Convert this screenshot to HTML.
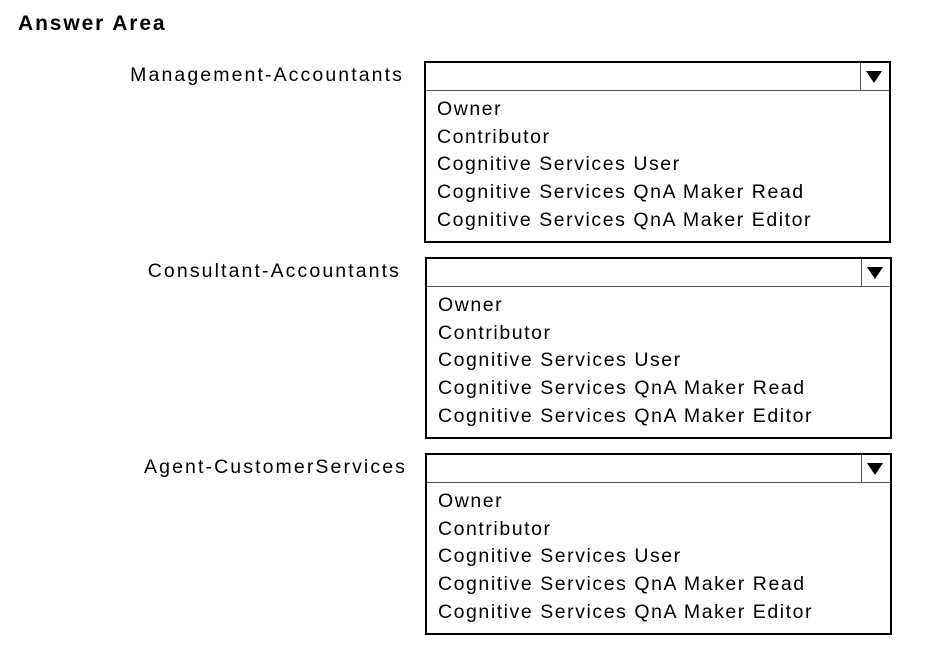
<!DOCTYPE html>
<html><head><style>
body{margin:0;width:930px;height:668px;background:#fff;position:relative;font-family:"Liberation Sans",sans-serif;color:#000;overflow:hidden}
.t{position:absolute;left:18px;top:12px;font-weight:bold;font-size:21px;letter-spacing:1.9px}
.l{position:absolute;right:526px;font-size:19.5px;letter-spacing:2.1px;white-space:nowrap}
.b{position:absolute;border:2px solid #000;box-sizing:border-box;width:467px;height:182px}
.h{position:absolute;left:0;right:0;top:0;height:27px;border-bottom:1.5px solid #555}
.d{position:absolute;right:28px;top:0;height:27px;border-left:1.5px solid #555}
.a{position:absolute;right:7px;top:8px;width:0;height:0;border-left:8px solid transparent;border-right:8px solid transparent;border-top:12px solid #000}
.o{position:absolute;left:11px;top:33px;font-size:19.5px;line-height:27.7px;letter-spacing:1.55px}
</style></head><body>
<div class="t">Answer Area</div>
<div class="l" style="top:64px">Management-Accountants</div>
<div class="l" style="top:260px;right:529px">Consultant-Accountants</div>
<div class="l" style="top:456px;right:523px">Agent-CustomerServices</div>
<div class="b" style="left:424px;top:61px"><div class="h"></div><div class="d"></div><div class="a"></div><div class="o">Owner<br>Contributor<br>Cognitive Services User<br>Cognitive Services QnA Maker Read<br>Cognitive Services QnA Maker Editor</div></div>
<div class="b" style="left:425px;top:257px"><div class="h"></div><div class="d"></div><div class="a"></div><div class="o">Owner<br>Contributor<br>Cognitive Services User<br>Cognitive Services QnA Maker Read<br>Cognitive Services QnA Maker Editor</div></div>
<div class="b" style="left:425px;top:453px"><div class="h"></div><div class="d"></div><div class="a"></div><div class="o">Owner<br>Contributor<br>Cognitive Services User<br>Cognitive Services QnA Maker Read<br>Cognitive Services QnA Maker Editor</div></div>
</body></html>
